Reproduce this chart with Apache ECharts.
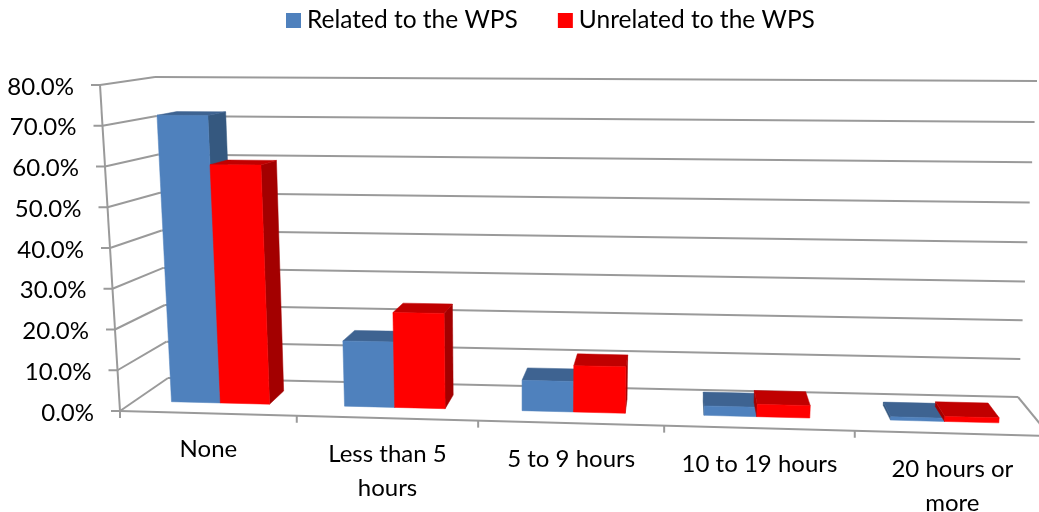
<!DOCTYPE html>
<html>
<head>
<meta charset="utf-8">
<style>
html, body { margin: 0; background: #fff; }
#chart { width: 1039px; height: 512px; }
</style>
</head>
<body>
<div id="chart"></div>
<script src="https://cdn.jsdelivr.net/npm/echarts@6/dist/echarts.min.js"></script>
<script>
// data
var categories = ['None', 'Less than 5\nhours', '5 to 9 hours', '10 to 19 hours', '20 hours or\nmore'];
var relatedValues = [71.9, 16.3, 7.5, 2.3, 0.8];
var unrelatedValues = [59.7, 23.6, 11.4, 3.0, 1.2];
var yTicks = [0, 10, 20, 30, 40, 50, 60, 70, 80];

var labelFont = '24px Lato, sans-serif';
var gridColor = '#9a9a9a';

// corners of the tilted 3D box, on screen
var box = {
    frontBL: [120, 411], frontBR: [1050, 436], frontTL: [100, 85], frontTR: [1076, 86],
    backBL: [168, 378], backBR: [1018, 397], backTL: [155, 77], backTR: [1037, 81]
};
var barDepth = [0.31, 0.7]; // where the bars stand on the floor, 0 front, 1 back
var barHalf = 0.057;        // one bar width, as part of the axis length

function mix(a, b, t) {
    return [a[0] + (b[0] - a[0]) * t, a[1] + (b[1] - a[1]) * t];
}

// u along the categories, v up the values, d into the depth, all 0..1
function project(u, v, d) {
    var s = u - 0.062 * u * (1 - u); // slots get wider to the right
    var vBack = v - 0.04 * v * (1 - v); // back wall lines sit a bit closer at the bottom
    var front = mix(mix(box.frontBL, box.frontBR, s), mix(box.frontTL, box.frontTR, s), v);
    var back = mix(mix(box.backBL, box.backBR, s), mix(box.backTL, box.backTR, s), vBack);
    return mix(front, back, d);
}

// go through the axes of the grid to get u and v
function toUnit(params, api, x, y) {
    var p = api.coord([x, y]);
    var c = params.coordSys;
    return [(p[0] - c.x) / c.width, (c.y + c.height - p[1]) / c.height];
}

function poly(points, color) {
    return { type: 'polygon', shape: { points: points }, style: { fill: color, stroke: color, lineWidth: 0.5 }, silent: true };
}

function line(a, b) {
    return {
        type: 'line',
        shape: { x1: a[0], y1: a[1], x2: b[0], y2: b[1] },
        style: { stroke: gridColor, lineWidth: 2 },
        silent: true
    };
}

function barRenderer(offset, frontColor, topColor, sideColor) {
    return function (params, api) {
        var top = toUnit(params, api, api.value(0), api.value(1));
        var u0 = top[0] + offset;
        var u1 = u0 + barHalf;
        var d0 = barDepth[0], d1 = barDepth[1];
        var fbl = project(u0, 0, d0), fbr = project(u1, 0, d0);
        var ftl = project(u0, top[1], d0), ftr = project(u1, top[1], d0);
        var bbl = project(u0, 0, d1), bbr = project(u1, 0, d1);
        var btl = project(u0, top[1], d1), btr = project(u1, top[1], d1);
        var parts = [];
        if (btl[0] < ftl[0]) parts.push(poly([fbl, ftl, btl, bbl], sideColor));
        if (btr[0] > ftr[0]) parts.push(poly([fbr, ftr, btr, bbr], sideColor));
        parts.push(poly([ftl, ftr, btr, btl], topColor));
        parts.push(poly([fbl, fbr, ftr, ftl], frontColor));
        return { type: 'group', children: parts };
    };
}

// gridline of one value with its tick and label
function renderWall(params, api) {
    var v = toUnit(params, api, 0, api.value(0))[1];
    var left = project(0, v, 0), corner = project(0, v, 1), right = project(1, v, 1);
    return {
        type: 'group',
        children: [
            line([left[0] - 9, left[1]], left),
            line(left, corner),
            line(corner, right),
            {
                type: 'text',
                silent: true,
                style: {
                    x: left[0] - 26, y: left[1] + 2,
                    text: api.value(0).toFixed(1) + '%',
                    font: labelFont, fill: '#000', align: 'right', verticalAlign: 'middle'
                }
            }
        ]
    };
}

// floor edge tick and label of one category
function renderCategory(params, api) {
    var i = api.value(0);
    var c = toUnit(params, api, i, 0)[0];
    var slot = 1 / categories.length;
    var tick = project(c - slot / 2, 0, 0);
    var mid = mix(tick, project(c + slot / 2, 0, 0), 0.5);
    return {
        type: 'group',
        children: [
            line(tick, [tick[0], tick[1] + 7]),
            {
                type: 'text',
                silent: true,
                style: {
                    x: mid[0], y: mid[1] + 19,
                    text: categories[i],
                    font: labelFont, lineHeight: 34, fill: '#000', align: 'center', verticalAlign: 'top'
                }
            }
        ]
    };
}

// the edges that are not gridlines
function renderFrame() {
    return {
        type: 'group',
        children: [
            line(box.frontTL, box.frontBL),
            line(box.frontBL, box.frontBR),
            line(box.frontBR, box.backBR)
        ]
    };
}

var chart = echarts.init(document.getElementById('chart'));
chart.setOption({
    animation: false,
    legend: {
        data: ['Related to the WPS', 'Unrelated to the WPS'],
        left: 286,
        top: 8,
        padding: 0,
        itemWidth: 15,
        itemHeight: 15,
        itemGap: 40,
        icon: 'rect',
        selectedMode: false,
        textStyle: { fontFamily: 'Lato, sans-serif', fontSize: 24.5, color: '#000', padding: [0, 0, 0, 1] }
    },
    grid: { left: 100, top: 85, width: 950, height: 326 },
    xAxis: { type: 'category', data: categories, show: false },
    yAxis: { type: 'value', min: 0, max: 80, interval: 10, show: false },
    series: [
        {
            type: 'custom', name: 'walls', renderItem: renderWall, clip: false, silent: true,
            encode: { y: 0 },
            data: yTicks.map(function (t) { return [t]; })
        },
        {
            type: 'custom', name: 'frame', renderItem: renderFrame, clip: false, silent: true,
            data: [[0]]
        },
        {
            type: 'custom', name: 'cats', renderItem: renderCategory, clip: false, silent: true,
            encode: { x: 0 },
            data: categories.map(function (c, i) { return [i]; })
        },
        {
            type: 'custom', name: 'Related to the WPS', clip: false,
            renderItem: barRenderer(-barHalf, '#4f81bd', '#3e6391', '#35587f'),
            itemStyle: { color: '#4f81bd' },
            encode: { x: 0, y: 1 },
            data: relatedValues.map(function (v, i) { return [i, v]; })
        },
        {
            type: 'custom', name: 'Unrelated to the WPS', clip: false,
            renderItem: barRenderer(0, '#ff0000', '#c00000', '#a30000'),
            itemStyle: { color: '#ff0000' },
            encode: { x: 0, y: 1 },
            data: unrelatedValues.map(function (v, i) { return [i, v]; })
        }
    ]
});
</script>
</body>
</html>
